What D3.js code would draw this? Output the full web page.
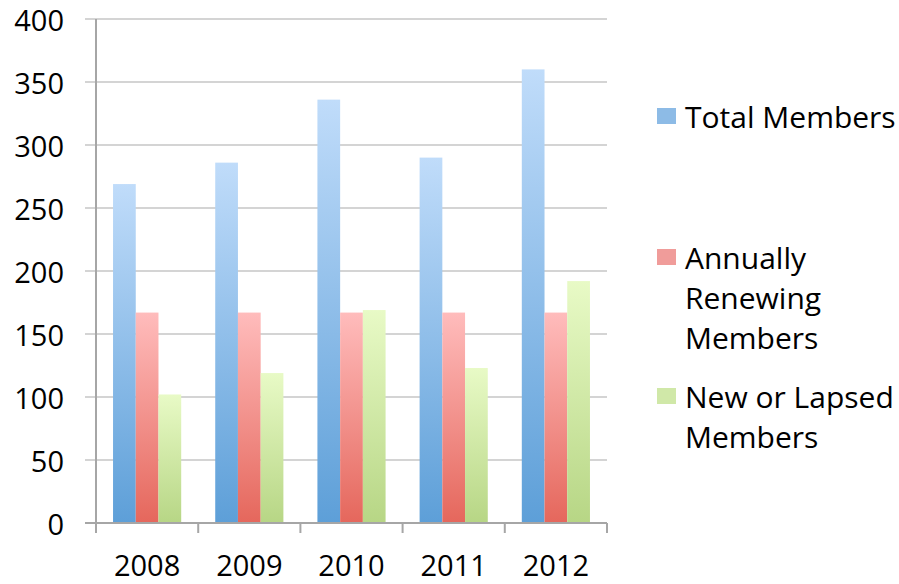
<html>
<head>
<meta charset="utf-8">
<style>
  body { margin: 0; padding: 0; background: #fff; }
  svg { display: block; }
  .label { font-family: "Open Sans", sans-serif; font-size: 29px; fill: #000; }
  .legend { font-size: 30px; }
</style>
</head>
<body>
<svg width="899" height="584"></svg>
<script src="https://d3js.org/d3.v7.min.js"></script>
<script>
// data
var years = ["2008", "2009", "2010", "2011", "2012"];
var totalMembers = [269, 286, 336, 290, 360];
var renewingMembers = [167, 167, 167, 167, 167];
var newOrLapsed = [102, 119, 169, 123, 192];
var yTicks = [0, 50, 100, 150, 200, 250, 300, 350, 400];

var seriesNames = ["Total Members", "Annually Renewing Members", "New or Lapsed Members"];
var legendLines = [["Total Members"], ["Annually", "Renewing", "Members"], ["New or Lapsed", "Members"]];

var seriesValues = [totalMembers, renewingMembers, newOrLapsed];
// top / bottom colour of each bar gradient, plus legend swatch
var colours = [
  { top: "#c0dcfa", bottom: "#5d9fd8", swatch: "#8dbbe6" },
  { top: "#ffbcbc", bottom: "#e5675c", swatch: "#f09c9a" },
  { top: "#e8fac6", bottom: "#b7d685", swatch: "#d0e8a8" }
];

var svg = d3.select("svg");
var plotLeft = 96, plotRight = 607, plotTop = 19, plotBottom = 523;

var x = d3.scaleBand().domain(years).range([plotLeft, plotRight]).paddingInner(0.333).paddingOuter(0.1667);
var xs = d3.scaleBand().domain(d3.range(3)).range([0, x.bandwidth()]);
var y = d3.scaleLinear().domain([0, 400]).range([plotBottom, plotTop]);

var defs = svg.append("defs");
colours.forEach(function(c, i) {
  var g = defs.append("linearGradient").attr("id", "grad" + i)
    .attr("x1", 0).attr("y1", 0).attr("x2", 0).attr("y2", 1);
  g.append("stop").attr("offset", "0%").attr("stop-color", c.top);
  g.append("stop").attr("offset", "100%").attr("stop-color", c.bottom);
});

// gridlines
svg.append("g")
  .selectAll("line")
  .data(yTicks.filter(function(d) { return d > 0; }))
  .enter()
  .append("line")
  .attr("x1", plotLeft - 11).attr("x2", plotRight)
  .attr("y1", function(d) { return y(d); })
  .attr("y2", function(d) { return y(d); })
  .attr("stroke", "#d4d4d4")
  .attr("stroke-width", 2);

// bars
var groups = svg.append("g")
  .selectAll("g")
  .data(years)
  .enter()
  .append("g")
  .attr("transform", function(d) { return "translate(" + x(d) + ",0)"; });

groups.selectAll("rect")
  .data(function(d, i) { return seriesValues.map(function(s, k) { return { k: k, v: s[i] }; }); })
  .enter()
  .append("rect")
  .attr("x", function(d) { return xs(d.k); })
  .attr("width", xs.bandwidth())
  .attr("y", function(d) { return y(d.v); })
  .attr("height", function(d) { return plotBottom - y(d.v); })
  .attr("fill", function(d) { return "url(#grad" + d.k + ")"; });

// axes
var axisColour = "#a6a6a6";
svg.append("line")
  .attr("x1", plotLeft - 11).attr("x2", plotRight)
  .attr("y1", plotBottom).attr("y2", plotBottom)
  .attr("stroke", axisColour).attr("stroke-width", 2);
svg.append("line")
  .attr("x1", plotLeft).attr("x2", plotLeft)
  .attr("y1", plotTop).attr("y2", plotBottom + 10)
  .attr("stroke", axisColour).attr("stroke-width", 2);

var catTicks = years.map(function(d) { return x(d) - x.step() * x.paddingInner() / 2; });
catTicks.push(plotRight);
svg.append("g")
  .selectAll("line")
  .data(catTicks)
  .enter()
  .append("line")
  .attr("x1", function(d) { return d; }).attr("x2", function(d) { return d; })
  .attr("y1", plotBottom).attr("y2", plotBottom + 10)
  .attr("stroke", axisColour).attr("stroke-width", 2);

svg.append("g")
  .selectAll("text")
  .data(yTicks)
  .enter()
  .append("text")
  .attr("class", "label")
  .attr("x", 64)
  .attr("y", function(d) { return y(d) + 4; })
  .attr("text-anchor", "end")
  .attr("dominant-baseline", "middle")
  .text(function(d) { return d; });

svg.append("g")
  .selectAll("text")
  .data(years)
  .enter()
  .append("text")
  .attr("class", "label")
  .attr("x", function(d) { return x(d) + x.bandwidth() / 2; })
  .attr("y", 576)
  .attr("text-anchor", "middle")
  .text(function(d) { return d; });

// legend
var legendTop = [117, 258, 397];
var legend = svg.append("g")
  .selectAll("g")
  .data(seriesNames)
  .enter()
  .append("g");

legend.append("rect")
  .attr("x", 657)
  .attr("y", function(d, i) { return legendTop[i] - 9; })
  .attr("width", 19)
  .attr("height", 16)
  .attr("fill", function(d, i) { return colours[i].swatch; });

legend.each(function(d, i) {
  var t = d3.select(this).append("text")
    .attr("class", "label legend")
    .attr("x", 685)
    .attr("y", legendTop[i] + 11);
  legendLines[i].forEach(function(line, j) {
    t.append("tspan").attr("x", 685).attr("dy", j == 0 ? 0 : 40).text(line);
  });
});
</script>
</body>
</html>
